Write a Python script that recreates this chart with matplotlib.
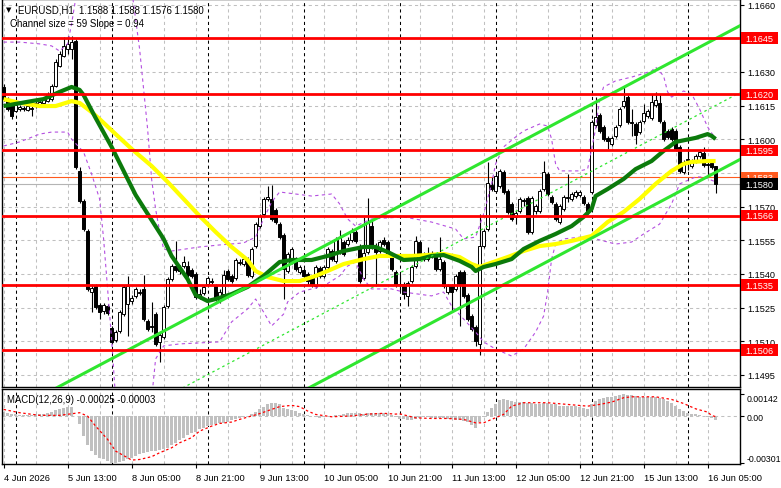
import matplotlib
matplotlib.use("Agg")
import matplotlib.pyplot as plt
from matplotlib.patches import Rectangle
from matplotlib.transforms import blended_transform_factory
import numpy as np

plt.rcParams['font.family'] = ['Liberation Sans', 'DejaVu Sans']

# ---------------- data ----------------
time_labels = ["4 Jun 2026", "5 Jun 13:00", "8 Jun 05:00", "8 Jun 21:00", "9 Jun 13:00",
               "10 Jun 05:00", "10 Jun 21:00", "11 Jun 13:00", "12 Jun 05:00", "12 Jun 21:00",
               "15 Jun 13:00", "16 Jun 05:00"]
label_bars = [0, 16, 32, 48, 64, 80, 96, 112, 128, 144, 160, 176]
day_start_bars = [3, 27, 51, 75, 99, 123, 147, 171]

opens = [1.16233, 1.16179, 1.16157, 1.16126, 1.16135, 1.16139, 1.16130, 1.16135, 1.16148, 1.16153,
         1.16162, 1.16170, 1.16179, 1.16237, 1.16326, 1.16371, 1.16402, 1.16402, 1.16438, 1.15859,
         1.15725, 1.15591, 1.15319, 1.15346, 1.15261, 1.15235, 1.15257, 1.15159, 1.15105, 1.15146,
         1.15221, 1.15266, 1.15279, 1.15302, 1.15315, 1.15333, 1.15190, 1.15168, 1.15221, 1.15097,
         1.15119, 1.15257, 1.15377, 1.15435, 1.15431, 1.15435, 1.15435, 1.15417, 1.15400, 1.15297,
         1.15315, 1.15355, 1.15364, 1.15346, 1.15279, 1.15310, 1.15413, 1.15391, 1.15382, 1.15449,
         1.15444, 1.15462, 1.15391, 1.15524, 1.15613, 1.15667, 1.15734, 1.15734, 1.15685, 1.15622,
         1.15573, 1.15413, 1.15453, 1.15466, 1.15409, 1.15417, 1.15400, 1.15382, 1.15346, 1.15426,
         1.15391, 1.15431, 1.15502, 1.15458, 1.15498, 1.15542, 1.15533, 1.15551, 1.15587, 1.15524,
         1.15382, 1.15498, 1.15613, 1.15520, 1.15502, 1.15551, 1.15542, 1.15480, 1.15409, 1.15355,
         1.15355, 1.15302, 1.15368, 1.15435, 1.15542, 1.15489, 1.15466, 1.15480, 1.15480, 1.15422,
         1.15453, 1.15319, 1.15346, 1.15333, 1.15409, 1.15409, 1.15306, 1.15212, 1.15163, 1.15088,
         1.15524, 1.15600, 1.15796, 1.15769, 1.15792, 1.15854, 1.15769, 1.15712, 1.15654, 1.15680,
         1.15729, 1.15738, 1.15587, 1.15680, 1.15680, 1.15778, 1.15845, 1.15743, 1.15712, 1.15631,
         1.15689, 1.15738, 1.15734, 1.15747, 1.15752, 1.15743, 1.15712, 1.15765, 1.16064, 1.16108,
         1.16055, 1.16006, 1.15979, 1.16015, 1.16064, 1.16148, 1.16188, 1.16077, 1.16068, 1.16032,
         1.16081, 1.16104, 1.16095, 1.16153, 1.16162, 1.16077, 1.16037, 1.16046, 1.16037, 1.15966,
         1.15854, 1.15908, 1.15881, 1.15903, 1.15925, 1.15939, 1.15890, 1.15894, 1.15880]

highs = [1.16246, 1.16188, 1.16162, 1.16162, 1.16153, 1.16148, 1.16157, 1.16157, 1.16170, 1.16175,
         1.16188, 1.16211, 1.16246, 1.16358, 1.16393, 1.16456, 1.16460, 1.16460, 1.16447, 1.15876,
         1.15734, 1.15600, 1.15355, 1.15355, 1.15270, 1.15270, 1.15266, 1.15168, 1.15150, 1.15239,
         1.15351, 1.15391, 1.15306, 1.15342, 1.15333, 1.15395, 1.15199, 1.15275, 1.15230, 1.15137,
         1.15261, 1.15386, 1.15444, 1.15547, 1.15440, 1.15480, 1.15458, 1.15426, 1.15409, 1.15333,
         1.15351, 1.15391, 1.15382, 1.15355, 1.15333, 1.15417, 1.15422, 1.15400, 1.15471, 1.15466,
         1.15475, 1.15475, 1.15520, 1.15631, 1.15667, 1.15743, 1.15792, 1.15796, 1.15694, 1.15631,
         1.15582, 1.15498, 1.15520, 1.15475, 1.15440, 1.15426, 1.15409, 1.15391, 1.15440, 1.15435,
         1.15440, 1.15520, 1.15511, 1.15564, 1.15596, 1.15551, 1.15564, 1.15605, 1.15596, 1.15533,
         1.15654, 1.15738, 1.15645, 1.15538, 1.15551, 1.15564, 1.15551, 1.15489, 1.15417, 1.15400,
         1.15364, 1.15368, 1.15440, 1.15569, 1.15551, 1.15498, 1.15520, 1.15502, 1.15489, 1.15564,
         1.15462, 1.15355, 1.15355, 1.15400, 1.15417, 1.15417, 1.15315, 1.15221, 1.15172, 1.15667,
         1.15600, 1.15899, 1.15832, 1.15845, 1.15867, 1.15863, 1.15778, 1.15720, 1.15680, 1.15743,
         1.15738, 1.15747, 1.15747, 1.15712, 1.15778, 1.15903, 1.15854, 1.15752, 1.15720, 1.15712,
         1.15752, 1.15845, 1.15765, 1.15774, 1.15774, 1.15752, 1.15720, 1.16086, 1.16188, 1.16117,
         1.16064, 1.16015, 1.16015, 1.16064, 1.16144, 1.16233, 1.16197, 1.16135, 1.16077, 1.16086,
         1.16157, 1.16135, 1.16202, 1.16211, 1.16202, 1.16086, 1.16046, 1.16055, 1.16046, 1.15974,
         1.15908, 1.15957, 1.15912, 1.15934, 1.15957, 1.15966, 1.15912, 1.15903, 1.15880]

lows = [1.16170, 1.16126, 1.16090, 1.16121, 1.16126, 1.16126, 1.16126, 1.16104, 1.16139, 1.16144,
        1.16153, 1.16166, 1.16170, 1.16233, 1.16322, 1.16367, 1.16380, 1.16358, 1.15867, 1.15716,
        1.15591, 1.15324, 1.15230, 1.15244, 1.15199, 1.15221, 1.15217, 1.15088, 1.15097, 1.15137,
        1.15212, 1.15123, 1.15266, 1.15293, 1.15306, 1.15190, 1.15146, 1.15141, 1.15079, 1.15008,
        1.15110, 1.15248, 1.15368, 1.15409, 1.15400, 1.15426, 1.15386, 1.15382, 1.15288, 1.15288,
        1.15306, 1.15346, 1.15355, 1.15279, 1.15270, 1.15302, 1.15368, 1.15360, 1.15373, 1.15440,
        1.15435, 1.15386, 1.15382, 1.15515, 1.15605, 1.15658, 1.15725, 1.15636, 1.15622, 1.15556,
        1.15288, 1.15404, 1.15444, 1.15413, 1.15400, 1.15382, 1.15351, 1.15342, 1.15337, 1.15382,
        1.15382, 1.15422, 1.15458, 1.15449, 1.15489, 1.15480, 1.15524, 1.15542, 1.15538, 1.15360,
        1.15373, 1.15489, 1.15511, 1.15346, 1.15493, 1.15524, 1.15480, 1.15413, 1.15342, 1.15324,
        1.15288, 1.15257, 1.15360, 1.15426, 1.15480, 1.15458, 1.15458, 1.15471, 1.15413, 1.15413,
        1.15337, 1.15310, 1.15235, 1.15324, 1.15168, 1.15293, 1.15190, 1.15146, 1.15079, 1.15039,
        1.15515, 1.15591, 1.15769, 1.15760, 1.15783, 1.15756, 1.15667, 1.15636, 1.15622, 1.15671,
        1.15703, 1.15578, 1.15578, 1.15667, 1.15671, 1.15769, 1.15747, 1.15712, 1.15636, 1.15622,
        1.15680, 1.15720, 1.15725, 1.15738, 1.15743, 1.15707, 1.15667, 1.15756, 1.16055, 1.16028,
        1.15992, 1.15957, 1.15970, 1.16006, 1.16055, 1.16139, 1.16068, 1.16015, 1.15979, 1.16023,
        1.16072, 1.16095, 1.16086, 1.16144, 1.16072, 1.15992, 1.16001, 1.15992, 1.15948, 1.15850,
        1.15845, 1.15863, 1.15872, 1.15894, 1.15917, 1.15876, 1.15836, 1.15867, 1.15760]

closes = [1.16179, 1.16135, 1.16104, 1.16153, 1.16144, 1.16135, 1.16148, 1.16139, 1.16162, 1.16166,
          1.16179, 1.16202, 1.16237, 1.16344, 1.16380, 1.16416, 1.16425, 1.16433, 1.15876, 1.15725,
          1.15600, 1.15333, 1.15337, 1.15253, 1.15230, 1.15261, 1.15226, 1.15097, 1.15141, 1.15230,
          1.15342, 1.15346, 1.15293, 1.15333, 1.15319, 1.15199, 1.15155, 1.15163, 1.15088, 1.15128,
          1.15253, 1.15377, 1.15435, 1.15417, 1.15413, 1.15453, 1.15395, 1.15391, 1.15297, 1.15310,
          1.15342, 1.15382, 1.15368, 1.15288, 1.15319, 1.15395, 1.15377, 1.15368, 1.15462, 1.15453,
          1.15466, 1.15395, 1.15511, 1.15622, 1.15658, 1.15734, 1.15743, 1.15645, 1.15631, 1.15564,
          1.15422, 1.15489, 1.15511, 1.15422, 1.15431, 1.15391, 1.15368, 1.15351, 1.15431, 1.15391,
          1.15431, 1.15511, 1.15466, 1.15556, 1.15564, 1.15489, 1.15551, 1.15587, 1.15547, 1.15368,
          1.15493, 1.15631, 1.15520, 1.15498, 1.15542, 1.15533, 1.15489, 1.15422, 1.15351, 1.15351,
          1.15310, 1.15360, 1.15431, 1.15547, 1.15489, 1.15466, 1.15493, 1.15493, 1.15422, 1.15466,
          1.15346, 1.15346, 1.15319, 1.15391, 1.15355, 1.15302, 1.15199, 1.15155, 1.15101, 1.15524,
          1.15591, 1.15805, 1.15778, 1.15836, 1.15859, 1.15765, 1.15676, 1.15645, 1.15671, 1.15734,
          1.15725, 1.15587, 1.15738, 1.15703, 1.15769, 1.15854, 1.15756, 1.15720, 1.15645, 1.15703,
          1.15743, 1.15743, 1.15756, 1.15765, 1.15765, 1.15716, 1.15676, 1.16077, 1.16099, 1.16037,
          1.16001, 1.15992, 1.16006, 1.16055, 1.16135, 1.16170, 1.16077, 1.16072, 1.16019, 1.16077,
          1.16117, 1.16126, 1.16166, 1.16175, 1.16081, 1.16001, 1.16010, 1.16001, 1.15957, 1.15859,
          1.15899, 1.15912, 1.15903, 1.15925, 1.15943, 1.15885, 1.15885, 1.15876, 1.15800]

# moving averages, read at sampled bars
green_ma_bars = [0, 7, 10, 14, 17, 19, 20, 23, 27, 30, 33, 37, 40, 42, 46, 48, 51, 53, 57, 61,
                 65, 69, 72, 77, 81, 85, 90, 93, 96, 100, 104, 107, 110, 114, 117, 118, 120, 123,
                 127, 130, 134, 138, 142, 145, 147, 148, 151, 155, 158, 162, 165, 168, 173, 176,
                 177, 178]
green_ma = [1.16148, 1.16170, 1.16179, 1.16211, 1.16233, 1.16220, 1.16197, 1.16095, 1.15966,
            1.15859, 1.15752, 1.15640, 1.15556, 1.15480, 1.15377, 1.15306, 1.15279, 1.15288,
            1.15310, 1.15342, 1.15391, 1.15453, 1.15462, 1.15462, 1.15480, 1.15502, 1.15520,
            1.15520, 1.15498, 1.15462, 1.15466, 1.15480, 1.15484, 1.15458, 1.15431, 1.15413,
            1.15431, 1.15444, 1.15466, 1.15511, 1.15547, 1.15578, 1.15613, 1.15654, 1.15689,
            1.15747, 1.15778, 1.15823, 1.15867, 1.15903, 1.15948, 1.15988, 1.16006, 1.16023,
            1.16015, 1.16001]
yellow_ma_bars = [0, 4, 9, 13, 17, 19, 22, 24, 28, 32, 37, 41, 45, 49, 53, 57, 61, 63, 66, 70,
                  74, 78, 81, 85, 90, 94, 102, 110, 114, 117, 119, 121, 126, 130, 134, 138, 142,
                  147, 151, 155, 159, 163, 167, 170, 172, 176, 178]
yellow_ma = [1.16179, 1.16162, 1.16148, 1.16148, 1.16170, 1.16162, 1.16121, 1.16090, 1.16023,
             1.15957, 1.15881, 1.15810, 1.15734, 1.15658, 1.15587, 1.15520, 1.15462, 1.15413,
             1.15386, 1.15368, 1.15368, 1.15391, 1.15413, 1.15444, 1.15466, 1.15480, 1.15480,
             1.15489, 1.15475, 1.15444, 1.15431, 1.15444, 1.15475, 1.15502, 1.15524, 1.15533,
             1.15547, 1.15569, 1.15631, 1.15676, 1.15734, 1.15801, 1.15859, 1.15890, 1.15899,
             1.15903, 1.15903]

# bands (dashed violet)
upper_band_bars = [0, 4, 9, 12, 14, 16, 17, 18, 19, 24, 29, 32, 33, 34, 35, 36, 37, 38, 39, 40,
                   42, 49, 54, 60, 63, 65, 67, 69, 73, 77, 82, 84, 86, 88, 92, 100, 107, 113, 115,
                   118, 120, 122, 123, 125, 128, 130, 134, 136, 137, 138, 139, 144, 146, 148, 149,
                   150, 153, 157, 162, 163, 165, 166, 167, 170, 172, 174, 176, 178]
upper_band = [1.16433, 1.16433, 1.16425, 1.16416, 1.16393, 1.16425, 1.16514, 1.16625, 1.16736,
              1.16892, 1.16848, 1.16670, 1.16536, 1.16402, 1.16224, 1.16046, 1.15823, 1.15689,
              1.15591, 1.15511, 1.15502, 1.15520, 1.15529, 1.15538, 1.15564, 1.15645, 1.15720,
              1.15765, 1.15756, 1.15747, 1.15756, 1.15712, 1.15645, 1.15613, 1.15645, 1.15654,
              1.15631, 1.15600, 1.15556, 1.15564, 1.15667, 1.15801, 1.15890, 1.15966, 1.16010,
              1.16037, 1.16068, 1.16059, 1.16001, 1.15890, 1.15859, 1.15859, 1.15867, 1.16046,
              1.16179, 1.16233, 1.16260, 1.16277, 1.16304, 1.16322, 1.16282, 1.16211, 1.16188,
              1.16215, 1.16202, 1.16135, 1.16055, 1.16001]
lower_band_bars = [0, 4, 9, 12, 16, 17, 20, 22, 24, 25, 26, 27, 28, 32, 37, 38, 40, 44, 54, 57,
                   61, 63, 65, 67, 70, 71, 74, 77, 80, 84, 86, 88, 90, 92, 97, 100, 107, 110, 112,
                   115, 118, 120, 123, 127, 130, 133, 135, 136, 137, 138, 140, 147, 148, 153, 157,
                   160, 164, 167, 169, 173, 175, 178]
lower_band = [1.15970, 1.15988, 1.16023, 1.16032, 1.16032, 1.16001, 1.15943, 1.15845, 1.15734,
              1.15556, 1.15333, 1.15110, 1.14843, 1.14486, 1.14843, 1.15021, 1.15079, 1.15088,
              1.15097, 1.15186, 1.15244, 1.15288, 1.15230, 1.15168, 1.15221, 1.15275, 1.15319,
              1.15333, 1.15346, 1.15391, 1.15435, 1.15453, 1.15377, 1.15333, 1.15333, 1.15319,
              1.15302, 1.15319, 1.15257, 1.15199, 1.15141, 1.15097, 1.15065, 1.15034, 1.15065,
              1.15141, 1.15212, 1.15319, 1.15466, 1.15533, 1.15556, 1.15569, 1.15556, 1.15533,
              1.15542, 1.15578, 1.15622, 1.15712, 1.15801, 1.15832, 1.15832, 1.15810]

# regression channel (end points)
channel_bars = [0, 184]
channel_upper = [1.14767, 1.16505]
channel_middle = [1.14469, 1.16207]
channel_lower = [1.14171, 1.15909]

levels = [1.1645, 1.1620, 1.1595, 1.1566, 1.1535, 1.1506]
level_labels = ["1.1645", "1.1620", "1.1595", "1.1566", "1.1535", "1.1506"]
price_ticks = [1.1495, 1.1510, 1.1525, 1.1540, 1.1555, 1.1570, 1.1585, 1.1600, 1.1615, 1.1630,
               1.1645, 1.1660]
price_tick_labels = ["1.1495", "1.1510", "1.1525", "1.1540", "1.1555", "1.1570", "", "1.1600",
                     "1.1615", "1.1630", "", "1.1660"]
bid_price = 1.1580
ask_price = 1.1583

macd_hist = [0.00028, 0.00022, 0.00016, 0.00011, 0.00009, 0.00007, 0.00009, 0.00009, 0.00011, 0.00013,
             0.00016, 0.00022, 0.00028, 0.00037, 0.00048, 0.00054, 0.00058, 0.00061, -0.00002, -0.00053,
             -0.00128, -0.00188, -0.00224, -0.00252, -0.00267, -0.00278, -0.00288, -0.00301, -0.00299, -0.00293,
             -0.00288, -0.00278, -0.00269, -0.00256, -0.00246, -0.00239, -0.00230, -0.00226, -0.00224, -0.00220,
             -0.00213, -0.00203, -0.00188, -0.00171, -0.00156, -0.00138, -0.00123, -0.00111, -0.00100, -0.00085,
             -0.00074, -0.00064, -0.00057, -0.00053, -0.00046, -0.00042, -0.00036, -0.00027, -0.00021, -0.00012,
             -0.00004, 0.00001, 0.00013, 0.00028, 0.00043, 0.00056, 0.00076, 0.00086, 0.00086, 0.00076,
             0.00054, 0.00043, 0.00037, 0.00031, 0.00022, 0.00016, 0.00009, 0.00001, -0.00004, -0.00010,
             -0.00006, 0.00001, 0.00001, 0.00005, 0.00009, 0.00013, 0.00018, 0.00022, 0.00022, 0.00018,
             0.00013, 0.00018, 0.00022, 0.00022, 0.00020, 0.00018, 0.00013, 0.00009, -0.00008, -0.00017,
             -0.00021, -0.00026, -0.00026, -0.00017, -0.00011, -0.00006, -0.00006, -0.00009, -0.00011, -0.00013,
             -0.00013, -0.00017, -0.00021, -0.00026, -0.00026, -0.00032, -0.00039, -0.00054, -0.00075, -0.00039,
             -0.00004, 0.00026, 0.00054, 0.00081, 0.00101, 0.00107, 0.00103, 0.00096, 0.00090, 0.00090,
             0.00092, 0.00086, 0.00086, 0.00081, 0.00081, 0.00086, 0.00086, 0.00081, 0.00075, 0.00068,
             0.00068, 0.00064, 0.00064, 0.00064, 0.00060, 0.00054, 0.00047, 0.00075, 0.00096, 0.00107,
             0.00118, 0.00122, 0.00124, 0.00128, 0.00138, 0.00142, 0.00137, 0.00133, 0.00128, 0.00124,
             0.00122, 0.00122, 0.00124, 0.00122, 0.00118, 0.00107, 0.00096, 0.00086, 0.00068, 0.00043,
             0.00032, 0.00021, 0.00013, 0.00011, 0.00009, 0.00004, -0.00004, -0.00011, -0.00025]
signal_bars = [0, 4, 9, 14, 19, 21, 23, 26, 28, 31, 32, 34, 37, 39, 42, 44, 47, 49, 52, 54, 57,
               59, 62, 64, 67, 69, 72, 74, 76, 78, 82, 87, 91, 95, 98, 99, 103, 107, 111, 115,
               118, 120, 122, 125, 127, 130, 136, 141, 146, 149, 152, 155, 157, 163, 167, 170,
               173, 176, 177, 178]
signal = [0.00043, 0.00022, 0.00005, 0.00005, 0.00022, 0.00000, -0.00064, -0.00149, -0.00224,
          -0.00267, -0.00282, -0.00278, -0.00260, -0.00235, -0.00203, -0.00171, -0.00138, -0.00096,
          -0.00064, -0.00047, -0.00038, -0.00021, 0.00001, 0.00016, 0.00043, 0.00061, 0.00069,
          0.00061, 0.00033, 0.00011, -0.00004, 0.00001, 0.00013, 0.00018, 0.00013, 0.00015,
          -0.00011, -0.00015, -0.00015, -0.00021, -0.00043, -0.00043, -0.00021, 0.00011, 0.00064,
          0.00086, 0.00086, 0.00075, 0.00064, 0.00075, 0.00090, 0.00118, 0.00124, 0.00124,
          0.00107, 0.00081, 0.00047, 0.00026, 0.00004, -0.00003]
macd_ticks = [0.00142, 0.0, -0.00301]
macd_tick_labels = ['0.00142', '0.00', '-0.00301']

# ---------------- figure ----------------
W, H = 781, 489
fig = plt.figure(figsize=(W / 100, H / 100), dpi=100)
fig.patch.set_facecolor('white')
ax = fig.add_axes([2 / W, 1 - 388 / H, 738 / W, 388 / H])
ax2 = fig.add_axes([2 / W, 1 - 465 / H, 738 / W, 75 / H], sharex=ax)

XMIN, XMAX = -0.4, 184.1
ax.set_xlim(XMIN, XMAX)
ax.set_ylim(1.14896, 1.16625)
ax2.set_ylim(-0.00307, 0.00174)

grid_col = '#c0c0c0'
grid_ls = (0, (3, 3))
for a in (ax, ax2):
    for s in a.spines.values():
        s.set_color('black')
        s.set_linewidth(1.0)
    for b in range(0, 185, 8):
        a.axvline(b, color=grid_col, lw=0.75, ls=grid_ls, zorder=0.5)
    for b in day_start_bars:
        a.axvline(b, color='black', lw=0.75, ls=grid_ls, zorder=0.6)
for p in price_ticks:
    ax.axhline(p, color=grid_col, lw=0.75, ls=grid_ls, zorder=0.5)
ax2.axhline(0, color=grid_col, lw=0.75, ls=grid_ls, zorder=0.5)

# bid / ask lines
ax.axhline(bid_price, color='#b4b4b4', lw=0.8, zorder=1)
ax.axhline(ask_price, color='#ff5a1e', lw=0.8, zorder=1)

# candles
idx = np.arange(len(closes))
o = np.array(opens); c = np.array(closes)
ax.vlines(idx, lows, highs, color='black', lw=0.8, zorder=3)
bottoms = np.minimum(o, c)
heights = np.maximum(np.abs(c - o), 0.000012)
faces = ['white' if cc >= oo else 'black' for oo, cc in zip(o, c)]
ax.bar(idx, heights, bottom=bottoms, width=0.62, color=faces, edgecolor='black',
       linewidth=0.7, zorder=4)

# bands
band_col = '#b44fe0'
ax.plot(upper_band_bars, upper_band, color=band_col, lw=0.8, ls=(0, (3, 3)), zorder=5)
ax.plot(lower_band_bars, lower_band, color=band_col, lw=0.8, ls=(0, (3, 3)), zorder=5)

# moving averages
ax.plot(yellow_ma_bars, yellow_ma, color='#ffff00', lw=3.0, zorder=6, solid_capstyle='butt')
ax.plot(green_ma_bars, green_ma, color='#0b7a0b', lw=3.0, zorder=7, solid_capstyle='butt')

# channel
chan_col = '#2fe62f'
ax.plot(channel_bars, channel_upper, color=chan_col, lw=2.2, zorder=8)
ax.plot(channel_bars, channel_lower, color=chan_col, lw=2.2, zorder=8)
ax.plot(channel_bars, channel_middle, color=chan_col, lw=0.9, ls=(0, (2, 2.5)), zorder=8)

# horizontal levels
for lv in levels:
    ax.axhline(lv, color='#ff0000', lw=2.0, zorder=9)

# axis ticks
ax.yaxis.tick_right()
ax.set_yticks(price_ticks)
ax.set_yticklabels(price_tick_labels)
ax.tick_params(axis='y', direction='out', length=3, width=0.8, pad=2.5, labelsize=6.6,
               colors='black')
ax.tick_params(axis='x', bottom=False, labelbottom=False)

ax2.yaxis.tick_right()
ax2.set_yticks(macd_ticks)
ax2.set_yticklabels(macd_tick_labels)
ax2.tick_params(axis='y', direction='out', length=3, width=0.8, pad=2.0, labelsize=6.3)
tl = ax2.get_yticklabels()
tl[0].set_va('top')
tl[2].set_va('bottom')
ax2.set_xticks(label_bars)
ax2.set_xticklabels(time_labels)
for t in ax2.get_xticklabels():
    t.set_ha('left')
ax2.tick_params(axis='x', direction='out', length=3, width=0.8, pad=3.5, labelsize=6.7)

# price boxes at the right edge
trans = blended_transform_factory(ax.transAxes, ax.transData)
box_h = 0.00052

def price_box(y, text, fc, tc, z):
    ax.add_patch(Rectangle((1.002, y - box_h / 2), 0.0495, box_h, transform=trans,
                           facecolor=fc, edgecolor='none', clip_on=False, zorder=z))
    ax.text(1.0075, y, text, transform=trans, color=tc, fontsize=6.6, va='center',
            ha='left', clip_on=False, zorder=z + 0.5)

for lv, lab in zip(levels, level_labels):
    price_box(lv, lab, '#ff0000', 'white', 20)
price_box(ask_price, f"{ask_price:.4f}", '#ff5a1e', 'white', 21)
price_box(bid_price, f"{bid_price:.4f}", 'black', 'white', 22)

# MACD
ax2.bar(idx, macd_hist, width=0.7, color='#c0c0c0', edgecolor='none', zorder=2)
ax2.plot(signal_bars, signal, color='#ff0000', lw=0.9, ls=(0, (2, 2)), zorder=3)

# texts
fig.text(6 / W, 1 - 10.5 / H, '\u25bc', fontsize=5, family='DejaVu Sans', va='center',
         ha='left')
fig.text(18 / W, 1 - 10.5 / H, "EURUSD,H1  1.1588 1.1588 1.1576 1.1580", fontsize=6.9,
         va='center', ha='left')
fig.text(10 / W, 1 - 24 / H, "Channel size = 59 Slope = 0.94", fontsize=6.9,
         va='center', ha='left')
fig.text(7 / W, 1 - 400 / H, "MACD(12,26,9) -0.00025 -0.00003", fontsize=6.9,
         va='center', ha='left')

fig.savefig('out.png', dpi=100, facecolor='white')
